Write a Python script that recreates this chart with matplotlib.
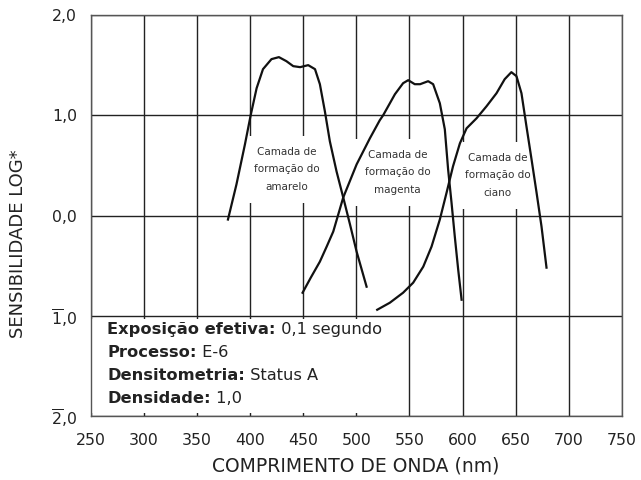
import matplotlib.pyplot as plt
from matplotlib.patches import Rectangle

# curvas (nm, log sensibilidade)
amarelo_nm = [379, 387, 395, 400.4, 406, 412, 420, 427, 434, 440.5, 447, 454.6, 461, 465.6,
              470.3, 475, 481.3, 487.6, 494, 500.2, 509.6]
amarelo_log = [-0.04, 0.31, 0.71, 1.0, 1.27, 1.46, 1.56, 1.58, 1.54, 1.49, 1.48, 1.50, 1.46, 1.31,
               1.04, 0.74, 0.44, 0.18, -0.09, -0.36, -0.71]

magenta_nm = [449.3, 457, 465.6, 472, 478.2, 487.6, 500.2, 512.7, 522, 525.2, 536.3, 544, 548.8,
              555, 560, 567.6, 572.3, 578.6, 583.3, 586.4, 589.6, 592.7, 595.9, 599.1]
magenta_log = [-0.77, -0.62, -0.46, -0.31, -0.16, 0.18, 0.51, 0.77, 0.95, 1.0, 1.21, 1.32, 1.35,
               1.31, 1.31, 1.34, 1.31, 1.12, 0.86, 0.46, 0.13, -0.21, -0.54, -0.84]

ciano_nm = [519.6, 531.5, 544, 553.5, 563, 570.8, 578.6, 585, 591, 597.5, 603.8, 613.2, 622.6,
            632, 639.7, 646, 650.8, 655.5, 660.2, 665, 669.7, 674.4, 679.1]
ciano_log = [-0.94, -0.87, -0.77, -0.67, -0.51, -0.31, -0.04, 0.23, 0.49, 0.72, 0.87, 0.97, 1.09,
             1.22, 1.36, 1.43, 1.39, 1.22, 0.89, 0.56, 0.23, -0.11, -0.52]

camadas = ['Camada de\nformação do\namarelo', 'Camada de\nformação do\nmagenta',
           'Camada de\nformação do\nciano']
camadas_pos = [(434, 0.46), (539, 0.43), (633, 0.40)]

xticks = [250, 300, 350, 400, 450, 500, 550, 600, 650, 700, 750]
yticks = [2, 1, 0, -1, -2]
ylabels = ['2,0', '1,0', '0,0', r'$\overline{1}$,0', r'$\overline{2}$,0']

info = [('Exposição efetiva:', '0,1 segundo'), ('Processo:', 'E-6'),
        ('Densitometria:', 'Status A'), ('Densidade:', '1,0')]
info_y = [-1.137, -1.37, -1.595, -1.83]

fig = plt.figure(figsize=(6.41, 4.8), dpi=100)
ax = fig.add_axes([0.142, 0.1333, 0.828, 0.8354])

ax.set_xlim(250, 750)
ax.set_ylim(-2, 2)
ax.set_xticks(xticks)
ax.set_yticks(yticks)
ax.set_yticklabels(ylabels)
ax.tick_params(length=0, labelsize=11.3, colors='#222222')
ax.tick_params(axis='x', pad=12)
ax.tick_params(axis='y', pad=10)
ax.grid(True, color='#222222', linewidth=1.0)
ax.set_axisbelow(True)
for s in ax.spines.values():
    s.set_color('#555555')
    s.set_linewidth(1.0)

ax.plot(amarelo_nm, amarelo_log, color='#111111', lw=1.6, zorder=5)
ax.plot(magenta_nm, magenta_log, color='#111111', lw=1.6, zorder=5)
ax.plot(ciano_nm, ciano_log, color='#111111', lw=1.6, zorder=5)

for txt, (x, y) in zip(camadas, camadas_pos):
    ax.text(x, y, txt, ha='center', va='center', fontsize=7.5, color='#333333',
            linespacing=1.9, zorder=3,
            bbox=dict(facecolor='white', edgecolor='none', pad=8))

ax.add_patch(Rectangle((250, -1.97), 298, 0.94, facecolor='white', edgecolor='none', zorder=2))
for (b, r), y in zip(info, info_y):
    t = ax.text(265.5, y, b, fontsize=11.7, fontweight='bold', color='#222222',
                va='center', ha='left', zorder=3)
    ax.annotate(' ' + r, xy=(1, 0.5), xycoords=t, va='center', ha='left',
                fontsize=11.7, color='#222222', zorder=3)

ax.set_xlabel('COMPRIMENTO DE ONDA (nm)', fontsize=13.5, color='#222222')
ax.set_ylabel('SENSIBILIDADE LOG*', fontsize=13, color='#222222')
ax.xaxis.set_label_coords(0.499, -0.10)
ax.yaxis.set_label_coords(-0.1205, 0.431)

fig.savefig('out.png', dpi=100)
